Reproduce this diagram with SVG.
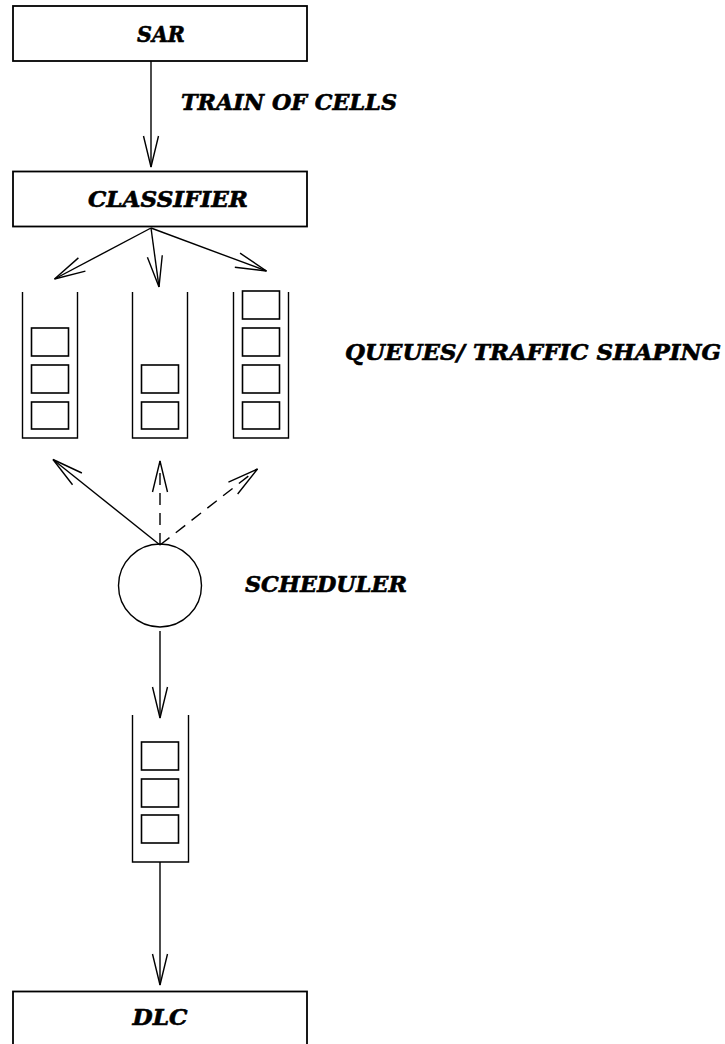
<svg xmlns="http://www.w3.org/2000/svg" width="725" height="1044" viewBox="0 0 725 1044">
<style>
.box{fill:#fff;stroke:#000;stroke-width:1.8}
.ln{fill:none;stroke:#000;stroke-width:1.4}
.dash{stroke-dasharray:12 8}
.cell{fill:none;stroke:#000;stroke-width:1.6}
.lbl{font-family:"DejaVu Serif","Liberation Serif",serif;font-weight:bold;font-style:italic;font-size:22px;fill:#000;stroke:#000;stroke-width:0.6}
</style>
<defs>
<marker id="ah" markerUnits="userSpaceOnUse" markerWidth="40" markerHeight="20" viewBox="-33 -10 36 20" refX="0" refY="0" orient="auto" overflow="visible">
<path d="M-31,-7.5 L0,0 L-31,7.5" fill="none" stroke="#000" stroke-width="1.4" stroke-dasharray="none"/>
</marker>
</defs>

<g id="sar">
<rect class="box" x="13" y="6" width="294" height="55"/>
<text class="lbl" x="161" y="42" text-anchor="middle" textLength="48" lengthAdjust="spacingAndGlyphs">SAR</text>
</g>

<g id="train-label">
<text class="lbl" x="181" y="110" textLength="216" lengthAdjust="spacingAndGlyphs">TRAIN OF CELLS</text>
</g>

<g id="classifier">
<rect class="box" x="13" y="171.5" width="294" height="55"/>
<text class="lbl" x="168" y="207" text-anchor="middle" textLength="160" lengthAdjust="spacingAndGlyphs">CLASSIFIER</text>
</g>

<g id="queue1">
<path class="ln" d="M22.5,292 V438 H77.5 V292"/>
<rect class="cell" x="31.5" y="328" width="37" height="28"/>
<rect class="cell" x="31.5" y="365" width="37" height="28"/>
<rect class="cell" x="31.5" y="402" width="37" height="27"/>
</g>

<g id="queue2">
<path class="ln" d="M132.5,292 V438 H187.5 V292"/>
<rect class="cell" x="141.5" y="365" width="37" height="28"/>
<rect class="cell" x="141.5" y="402" width="37" height="27"/>
</g>

<g id="queue3">
<path class="ln" d="M233.5,292 V438 H288.5 V292"/>
<rect class="cell" x="242.5" y="291" width="37" height="28"/>
<rect class="cell" x="242.5" y="328" width="37" height="28"/>
<rect class="cell" x="242.5" y="365" width="37" height="28"/>
<rect class="cell" x="242.5" y="402" width="37" height="27"/>
</g>

<g id="queues-label">
<text class="lbl" x="345" y="360" textLength="376" lengthAdjust="spacingAndGlyphs">QUEUES/ TRAFFIC SHAPING</text>
</g>

<g id="scheduler">
<circle class="ln" cx="160" cy="585.5" r="41.5"/>
<text class="lbl" x="245" y="592" textLength="162" lengthAdjust="spacingAndGlyphs">SCHEDULER</text>
</g>

<g id="queue-out">
<path class="ln" d="M132.5,715 V862 H188.5 V715"/>
<rect class="cell" x="141.5" y="742" width="37" height="28"/>
<rect class="cell" x="141.5" y="779" width="37" height="28"/>
<rect class="cell" x="141.5" y="815" width="37" height="28"/>
</g>

<g id="dlc">
<rect class="box" x="13" y="991.5" width="294" height="60"/>
<text class="lbl" x="160" y="1025" text-anchor="middle" textLength="55" lengthAdjust="spacingAndGlyphs">DLC</text>
</g>

<g id="connectors">
<line class="ln" x1="151" y1="61" x2="151" y2="167" marker-end="url(#ah)"/>
<line class="ln" x1="151" y1="228" x2="54.5" y2="279" marker-end="url(#ah)"/>
<line class="ln" x1="151" y1="228" x2="159" y2="287" marker-end="url(#ah)"/>
<line class="ln" x1="151" y1="228" x2="266.5" y2="271" marker-end="url(#ah)"/>
<line class="ln" x1="160" y1="545" x2="53" y2="459.5" marker-end="url(#ah)"/>
<line class="ln dash" x1="160" y1="545" x2="160" y2="461" marker-end="url(#ah)"/>
<line class="ln dash" x1="160" y1="545" x2="257.5" y2="469" marker-end="url(#ah)"/>
<line class="ln" x1="160" y1="631" x2="160" y2="718" marker-end="url(#ah)"/>
<line class="ln" x1="160" y1="862" x2="160" y2="985" marker-end="url(#ah)"/>
</g>
</svg>
